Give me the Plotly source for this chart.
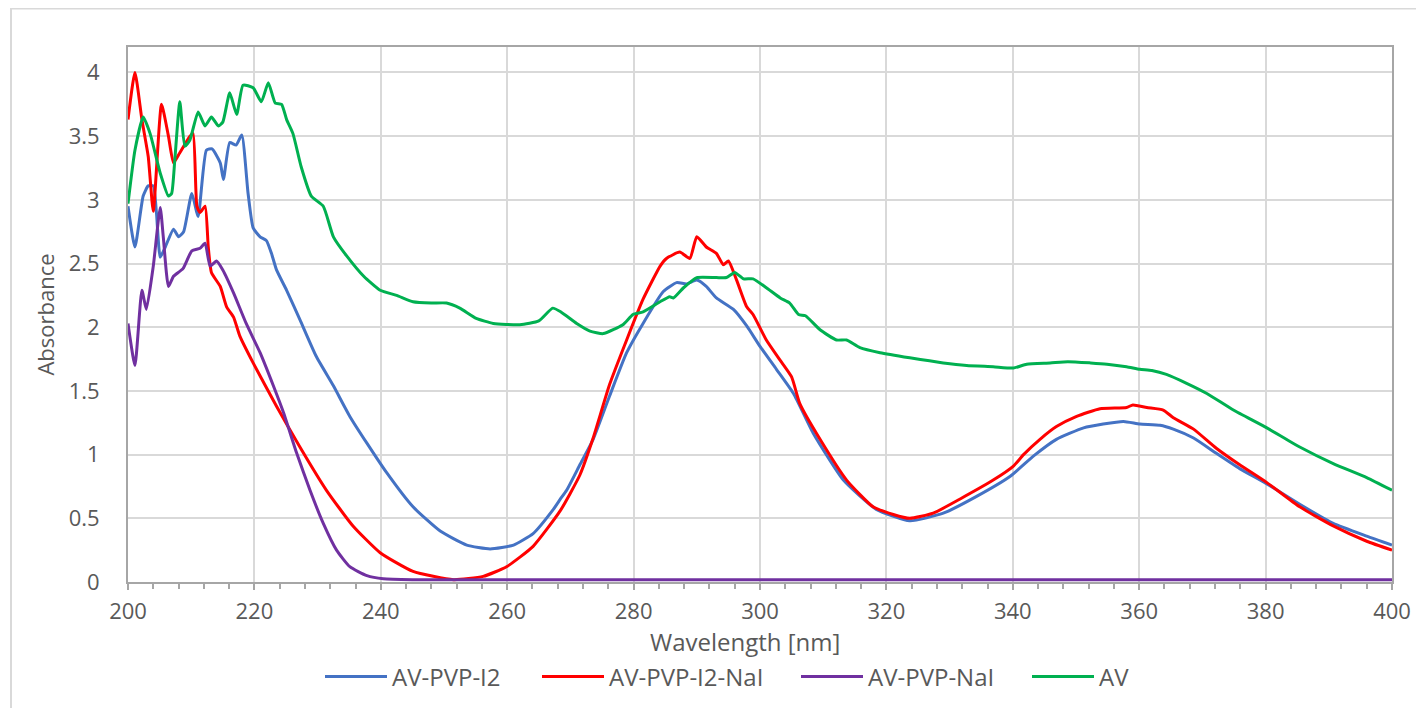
import plotly.graph_objects as go

# ---- data ----
av_pvp_i2_x = [200.0, 201.1, 202.4, 203.2, 204.0, 204.5, 205.1, 205.9, 207.2, 208.0, 208.8, 210.1, 211.1,
               212.4, 213.3, 214.6, 215.1, 216.1, 217.1, 218.0, 219.0, 219.8, 220.9, 221.9, 222.7, 223.5,
               225.1, 227.2, 229.8, 232.5, 235.1, 237.8, 240.9, 245.1, 249.4, 253.6, 257.3, 261.0, 264.1,
               267.3, 268.4, 269.4, 271.5, 273.6, 276.2, 278.9, 281.5, 284.7, 286.8, 288.4, 290.0, 291.5,
               293.1, 295.8, 297.9, 300.0, 302.6, 305.3, 308.4, 313.2, 318.4, 323.7, 329.0, 334.2, 339.6,
               343.3, 346.9, 351.2, 354.3, 357.5, 360.1, 363.3, 365.4, 368.6, 372.2, 375.9, 380.2, 385.4,
               390.7, 396.0, 400.0]
av_pvp_i2_y = [2.95, 2.63, 3.03, 3.11, 3.11, 2.90, 2.55, 2.63, 2.77, 2.71, 2.75, 3.05, 2.87,
               3.39, 3.40, 3.29, 3.16, 3.45, 3.43, 3.51, 3.05, 2.78, 2.71, 2.68, 2.58, 2.45,
               2.29, 2.06, 1.77, 1.54, 1.30, 1.09, 0.86, 0.59, 0.40, 0.29, 0.26, 0.29, 0.38,
               0.57, 0.65, 0.72, 0.92, 1.12, 1.46, 1.80, 2.03, 2.28, 2.35, 2.34, 2.37, 2.32,
               2.23, 2.14, 2.01, 1.85, 1.67, 1.48, 1.17, 0.80, 0.57, 0.48, 0.54, 0.67, 0.83,
               0.99, 1.12, 1.21, 1.24, 1.26, 1.24, 1.23, 1.20, 1.13, 1.01, 0.89, 0.77, 0.61,
               0.46, 0.36, 0.29]

av_pvp_i2_nai_x = [200.0, 201.1, 202.2, 203.2, 204.0, 205.3, 206.4, 207.2, 208.2, 209.8, 210.3, 210.9, 211.4,
                   212.2, 212.7, 213.2, 214.6, 215.6, 216.7, 217.7, 219.8, 223.5, 227.2, 231.4, 235.6, 239.9,
                   245.1, 251.5, 256.2, 259.9, 264.1, 268.4, 271.5, 273.6, 276.2, 278.9, 281.5, 284.2, 285.2,
                   287.3, 288.9, 290.0, 291.5, 293.1, 294.2, 295.0, 296.3, 297.9, 298.9, 301.0, 303.2, 305.0,
                   306.3, 309.5, 313.7, 317.9, 321.1, 323.7, 327.4, 331.6, 336.9, 340.1, 341.7, 344.3, 346.9,
                   350.1, 353.8, 358.0, 359.0, 361.2, 363.8, 365.4, 368.6, 372.2, 375.9, 380.2, 385.4, 390.7,
                   396.0, 400.0]
av_pvp_i2_nai_y = [3.63, 4.00, 3.63, 3.34, 2.91, 3.75, 3.50, 3.29, 3.37, 3.50, 3.52, 2.95, 2.90,
                   2.95, 2.63, 2.43, 2.32, 2.16, 2.08, 1.93, 1.72, 1.38, 1.06, 0.72, 0.44, 0.23,
                   0.083, 0.018, 0.044, 0.12, 0.28, 0.56, 0.84, 1.13, 1.55, 1.90, 2.22, 2.48, 2.54,
                   2.59, 2.54, 2.71, 2.63, 2.58, 2.49, 2.52, 2.37, 2.16, 2.10, 1.90, 1.74, 1.61,
                   1.40, 1.12, 0.80, 0.59, 0.53, 0.50, 0.54, 0.65, 0.80, 0.91, 1.00, 1.12, 1.22,
                   1.30, 1.36, 1.37, 1.39, 1.37, 1.35, 1.29, 1.20, 1.05, 0.92, 0.78, 0.59, 0.44,
                   0.32, 0.25]

av_pvp_nai_x = [200.0, 201.1, 202.2, 202.9, 204.0, 205.1, 205.6, 206.4, 207.2, 208.7, 210.1, 211.4, 212.2,
                213.0, 214.0, 215.0, 216.7, 218.7, 220.9, 223.0, 224.6, 226.7, 228.8, 230.9, 233.0, 235.1,
                237.8, 240.4, 245.0, 250.0, 260.0, 270.0, 280.0, 290.0, 300.0, 310.0, 320.0, 330.0, 340.0,
                350.0, 360.0, 370.0, 380.0, 390.0, 400.0]
av_pvp_nai_y = [2.03, 1.70, 2.29, 2.14, 2.48, 2.94, 2.70, 2.32, 2.40, 2.46, 2.60, 2.62, 2.66,
                2.48, 2.52, 2.45, 2.27, 2.03, 1.80, 1.54, 1.33, 1.01, 0.72, 0.46, 0.25, 0.12,
                0.05, 0.025, 0.018, 0.018, 0.018, 0.018, 0.018, 0.018, 0.018, 0.018, 0.018, 0.018, 0.018,
                0.018, 0.018, 0.018, 0.018, 0.018, 0.018]

av_x = [200.0, 201.1, 202.4, 203.5, 205.1, 206.4, 206.9, 207.4, 208.2, 209.0, 209.8, 211.1, 212.2,
        213.2, 214.3, 215.0, 216.1, 217.2, 218.2, 219.8, 221.1, 222.2, 223.3, 224.3, 225.1, 226.1,
        227.4, 229.0, 230.9, 232.5, 234.6, 237.3, 239.9, 242.5, 245.1, 248.0, 250.4, 252.5, 255.1,
        257.8, 262.0, 265.0, 267.2, 268.5, 271.0, 273.1, 275.2, 278.3, 279.9, 281.5, 284.2, 285.7,
        286.3, 287.9, 290.0, 293.1, 294.7, 296.0, 297.4, 298.9, 301.0, 303.2, 304.7, 306.1, 307.2,
        309.5, 312.1, 313.7, 315.8, 319.0, 323.7, 329.0, 332.7, 336.9, 340.1, 342.2, 345.9, 348.7,
        352.3, 354.9, 358.0, 360.1, 362.0, 364.3, 367.5, 370.7, 374.9, 380.2, 385.4, 390.7, 396.0,
        400.0]
av_y = [2.97, 3.39, 3.65, 3.52, 3.21, 3.03, 3.05, 3.31, 3.77, 3.42, 3.47, 3.69, 3.58,
        3.65, 3.58, 3.61, 3.84, 3.67, 3.90, 3.88, 3.77, 3.92, 3.76, 3.75, 3.63, 3.52,
        3.26, 3.03, 2.95, 2.71, 2.56, 2.40, 2.29, 2.25, 2.20, 2.19, 2.19, 2.15, 2.07,
        2.03, 2.02, 2.05, 2.15, 2.12, 2.03, 1.97, 1.95, 2.02, 2.10, 2.12, 2.20, 2.24,
        2.23, 2.31, 2.39, 2.39, 2.39, 2.43, 2.38, 2.38, 2.31, 2.23, 2.19, 2.10, 2.09,
        1.98, 1.90, 1.90, 1.84, 1.80, 1.76, 1.72, 1.70, 1.69, 1.68, 1.71, 1.72, 1.73,
        1.72, 1.71, 1.69, 1.67, 1.66, 1.63, 1.56, 1.48, 1.35, 1.21, 1.06, 0.93, 0.82,
        0.72]

series_names = ["AV-PVP-I2", "AV-PVP-I2-NaI", "AV-PVP-NaI", "AV"]
series_colors = ["#4472C4", "#FF0000", "#7030A0", "#00B050"]
series_x = [av_pvp_i2_x, av_pvp_i2_nai_x, av_pvp_nai_x, av_x]
series_y = [av_pvp_i2_y, av_pvp_i2_nai_y, av_pvp_nai_y, av_y]

x_ticks = [200, 220, 240, 260, 280, 300, 320, 340, 360, 380, 400]
y_ticks = [0, 0.5, 1, 1.5, 2, 2.5, 3, 3.5, 4]
y_tick_labels = ["0", "0.5", "1", "1.5", "2", "2.5", "3", "3.5", "4"]
x_title = "Wavelength [nm]"
y_title = "Absorbance"

FONT = "Open Sans"
TXT = "#595959"

# the page body adds an 8px margin, so the figure is 8px smaller than the window
W, H = 1416, 700
ml, mr, mt, mb = 120, 32, 39, 126
pw, ph = W - ml - mr, H - mt - mb

legend_ids = ["legend", "legend2", "legend3", "legend4"]
legend_line_start_px = [327, 544, 803, 1034]   # page x where each legend entry line starts

fig = go.Figure()
for name, col, xs, ys, lg in zip(series_names, series_colors, series_x, series_y, legend_ids):
    fig.add_trace(go.Scatter(x=xs, y=ys, mode="lines", name=name, legend=lg,
                             line=dict(color=col, width=3, shape="spline", smoothing=0.5)))

legend_y = (582 - 677) / ph
legend_layout = {}
for lg, lx in zip(legend_ids, legend_line_start_px):
    legend_layout[lg] = dict(orientation="h", x=(lx - 7 - 128) / pw, xanchor="left",
                             y=legend_y, yanchor="middle", itemwidth=62,
                             bgcolor="rgba(0,0,0,0)", borderwidth=0,
                             font=dict(family=FONT, size=24, color=TXT))

fig.update_layout(
    width=W, height=H,
    margin=dict(l=ml, r=mr, t=mt, b=mb, autoexpand=False),
    paper_bgcolor="white", plot_bgcolor="white",
    font=dict(family=FONT, color=TXT, size=22),
    showlegend=True,
    xaxis=dict(range=[200, 400], tickvals=x_ticks, ticktext=[str(v) for v in x_ticks],
               showgrid=True, gridcolor="#d9d9d9", gridwidth=1.5,
               showline=True, linecolor="#a6a6a6", linewidth=2, mirror=True,
               ticks="outside", ticklen=6, tickcolor="#a6a6a6", tickwidth=1.5,
               ticklabelstandoff=3,
               minor=dict(dtick=4, ticks="outside", ticklen=5, tickcolor="#a6a6a6", tickwidth=1.5,
                          showgrid=False),
               tickfont=dict(family=FONT, size=22, color=TXT),
               zeroline=False, automargin=False),
    yaxis=dict(range=[0, 4.2], tickvals=y_ticks, ticktext=y_tick_labels,
               showgrid=True, gridcolor="#d9d9d9", gridwidth=1.5,
               showline=True, linecolor="#a6a6a6", linewidth=2, mirror=True,
               ticks="", ticklabelstandoff=22,
               tickfont=dict(family=FONT, size=22, color=TXT),
               title=dict(text=y_title, font=dict(family=FONT, size=22, color=TXT), standoff=8),
               zeroline=False, automargin=False),
    **legend_layout,
)

# x axis title, placed as in the reference (slightly left of the plot centre)
fig.add_annotation(text=x_title, xref="paper", yref="paper",
                   x=(745 - 128) / pw, y=(582 - 641) / ph, xanchor="center", yanchor="middle",
                   showarrow=False, font=dict(family=FONT, size=24, color=TXT))

# outer chart frame (light gray)
fig.add_shape(type="rect", xref="paper", yref="paper",
              x0=(3 - ml) / pw, x1=(W + 10 - ml) / pw,
              y0=-(H + 10 - (H - mb)) / ph, y1=1 + (mt - 0.5) / ph,
              line=dict(color="#d9d9d9", width=2), fillcolor="rgba(0,0,0,0)", layer="below")

fig.write_html("out.html")
